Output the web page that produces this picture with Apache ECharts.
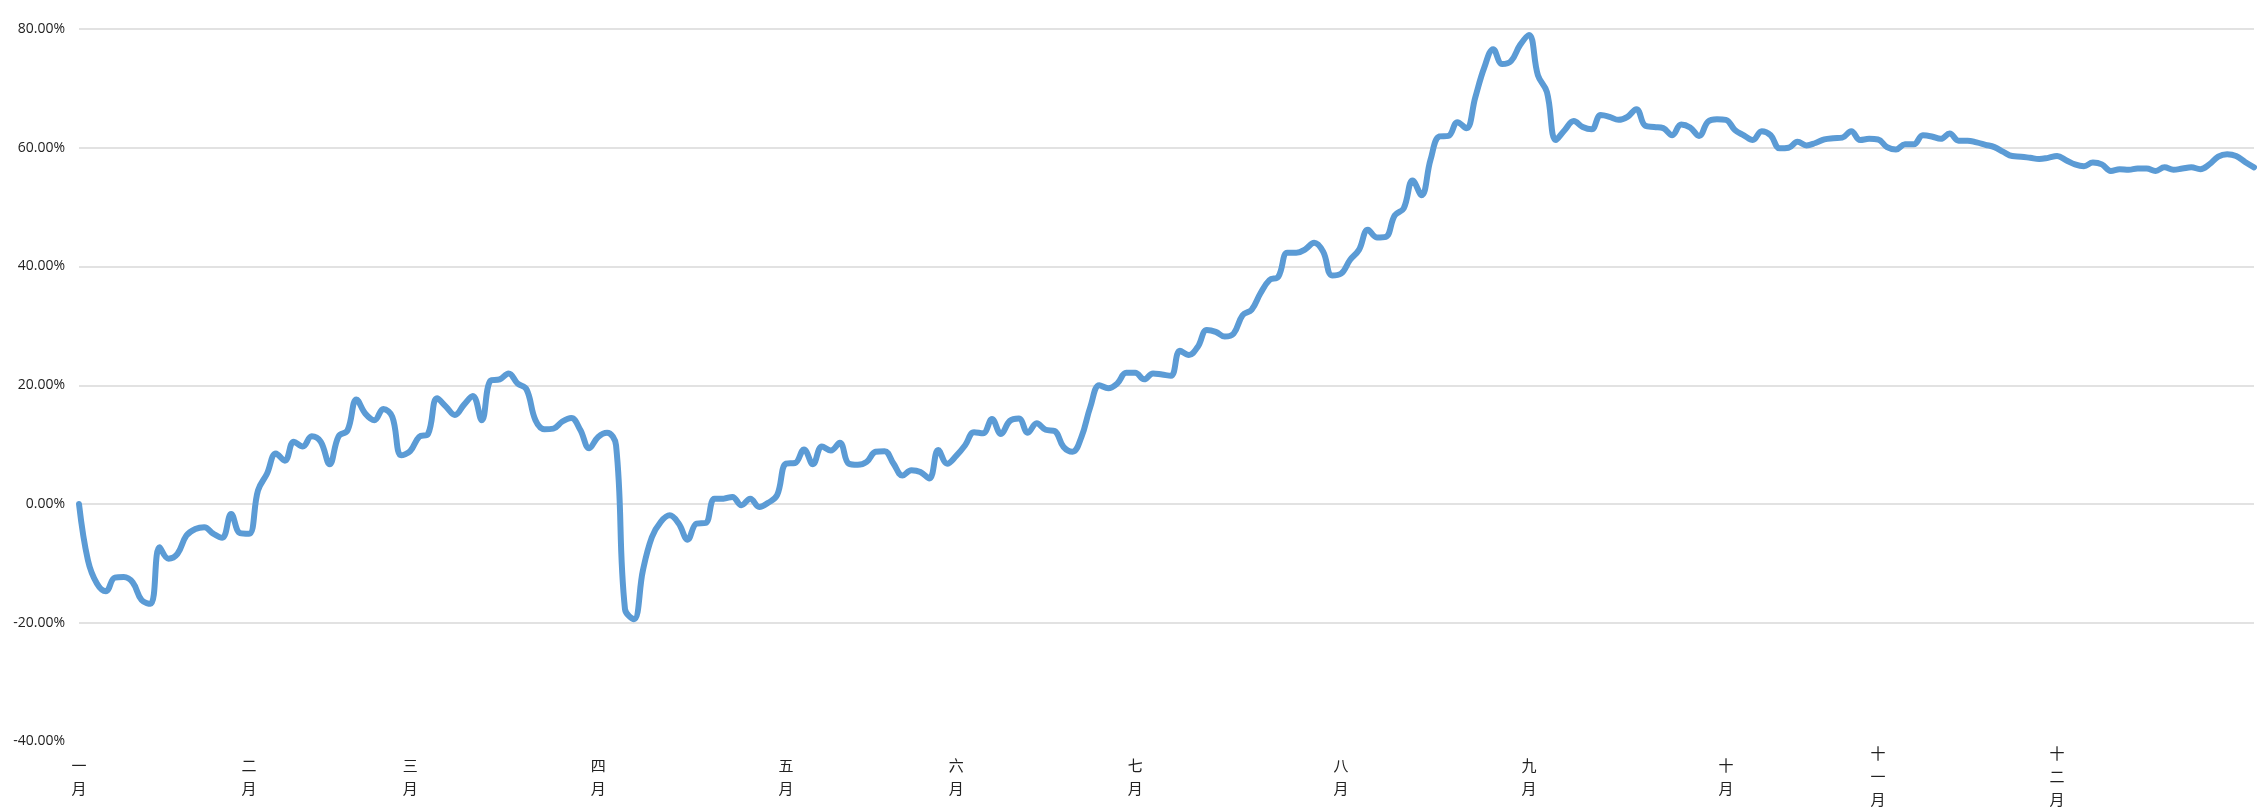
<!DOCTYPE html>
<html>
<head>
<meta charset="utf-8">
<title>收益率走势</title>
<script src="https://cdn.jsdelivr.net/npm/echarts@6/dist/echarts.min.js"></script>
<style>
  html, body { margin: 0; padding: 0; background: #fff; }
  #chart { width: 2266px; height: 811px; }
</style>
</head>
<body>
<div id="chart"></div>
<script>
// 月份名称 + 每月交易日数
const months = ['一月', '二月', '三月', '四月', '五月', '六月', '七月', '八月', '九月', '十月', '十一月', '十二月']
const monthDays = [19, 18, 21, 21, 19, 20, 23, 21, 22, 17, 20, 23]

// 累计收益率（%），按月分段
const janValues = [0, -9.5, -13.4, -14.7, -12.4, -12.3, -13.2, -16.2, -16.8, -7.3, -9.2, -8.4, -5.3, -4.2, -3.9, -5.0, -5.7, -1.7, -4.9]
const febValues = [-5.0, 2.3, 5.1, 8.5, 7.3, 10.5, 9.7, 11.4, 10.5, 6.7, 11.4, 12.4, 17.6, 15.2, 14.1, 16.0, 14.7, 8.2]
const marValues = [8.9, 11.3, 11.8, 17.8, 16.4, 15.0, 16.7, 18.2, 14.1, 20.8, 21.0, 22.0, 20.3, 19.3, 14.1, 12.6, 12.7, 13.9, 14.5, 12.5, 9.4]
const aprValues = [11.3, 12.0, 9.9, -17.7, -19.4, -11.2, -5.6, -3.0, -1.9, -3.3, -6.0, -3.3, -3.2, 0.9, 0.9, 1.2, -0.2, 0.9, -0.5, 0.2, 1.5]
const mayValues = [6.8, 6.9, 9.2, 6.7, 9.7, 9.0, 10.3, 6.8, 6.6, 7.1, 8.8, 8.9, 6.8, 4.8, 5.7, 5.4, 4.3, 9.1, 6.8]
const junValues = [8.1, 9.9, 12.1, 11.9, 14.3, 11.8, 14.0, 14.4, 12.0, 13.6, 12.5, 12.3, 9.6, 8.8, 11.3, 16.4, 20.0, 19.5, 20.3, 22.1]
const julValues = [22.1, 21.0, 22.0, 21.8, 21.6, 25.8, 25.1, 26.5, 29.3, 29.0, 28.2, 28.7, 31.8, 32.7, 35.5, 37.7, 38.3, 42.3, 42.3, 42.9, 44.0, 42.5, 38.5]
const augValues = [38.8, 41.1, 42.8, 46.2, 44.9, 45.0, 48.6, 49.8, 54.5, 52.0, 58.0, 61.9, 62.0, 64.3, 63.3, 68.5, 73.5, 76.6, 74.1, 74.6, 77.3]
const sepValues = [79.0, 72.2, 69.4, 61.3, 63.0, 64.5, 63.5, 63.1, 65.5, 65.2, 64.7, 65.2, 66.5, 63.7, 63.5, 63.3, 62.1, 63.9, 63.4, 62.0, 64.4, 64.8]
const octValues = [64.7, 63.0, 62.1, 61.3, 62.8, 62.1, 59.9, 60.0, 61.0, 60.4, 60.8, 61.4, 61.6, 61.7, 62.8, 61.3, 61.5]
const novValues = [61.4, 60.1, 59.7, 60.6, 60.6, 62.1, 61.9, 61.5, 62.4, 61.2, 61.2, 60.9, 60.5, 60.1, 59.3, 58.6, 58.5, 58.3, 58.1, 58.3]
const decValues = [58.6, 57.9, 57.2, 56.9, 57.5, 57.2, 56.1, 56.4, 56.3, 56.5, 56.5, 56.1, 56.7, 56.3, 56.5, 56.7, 56.4, 57.2, 58.5, 58.9, 58.6, 57.6, 56.7]

// y 轴刻度
const yTicks = [-40, -20, 0, 20, 40, 60, 80]

const values = [].concat(janValues, febValues, marValues, aprValues, mayValues, junValues,
  julValues, augValues, sepValues, octValues, novValues, decValues)

// 类目：每个交易日一个，月初显示月份
const categories = []
const labelAt = {}
monthDays.forEach((n, m) => {
  for (let d = 0; d < n; d++) {
    if (d === 0) labelAt[categories.length] = months[m]
    categories.push((m + 1) + '-' + (d + 1))
  }
})

const chart = echarts.init(document.getElementById('chart'))
chart.setOption({
  animation: false,
  grid: { left: 79, right: 12, top: 29, bottom: 69, containLabel: false },
  xAxis: {
    type: 'category',
    data: categories,
    boundaryGap: false,
    axisLine: { show: false },
    axisTick: { show: false },
    splitLine: { show: false },
    axisLabel: {
      interval: (idx) => labelAt[idx] !== undefined,
      formatter: (val, idx) => (labelAt[idx] || '').split('').join('\n'),
      verticalAlign: 'middle',
      margin: 35,
      lineHeight: 23,
      fontSize: 15,
      color: '#222',
      fontFamily: 'Noto Sans CJK SC'
    }
  },
  yAxis: {
    type: 'value',
    min: yTicks[0],
    max: yTicks[yTicks.length - 1],
    interval: 20,
    axisLine: { show: false },
    axisTick: { show: false },
    splitLine: {
      showMinLine: false,
      lineStyle: { color: '#d9d9d9', width: 1.5 }
    },
    axisLabel: {
      margin: 14,
      fontSize: 14,
      color: '#222',
      fontFamily: 'Open Sans',
      formatter: (v) => v.toFixed(2) + '%'
    }
  },
  series: [{
    type: 'line',
    data: values,
    smooth: 0.4,
    symbol: 'none',
    lineStyle: { color: '#5b9bd5', width: 6, cap: 'round', join: 'round' }
  }]
})
</script>
</body>
</html>
